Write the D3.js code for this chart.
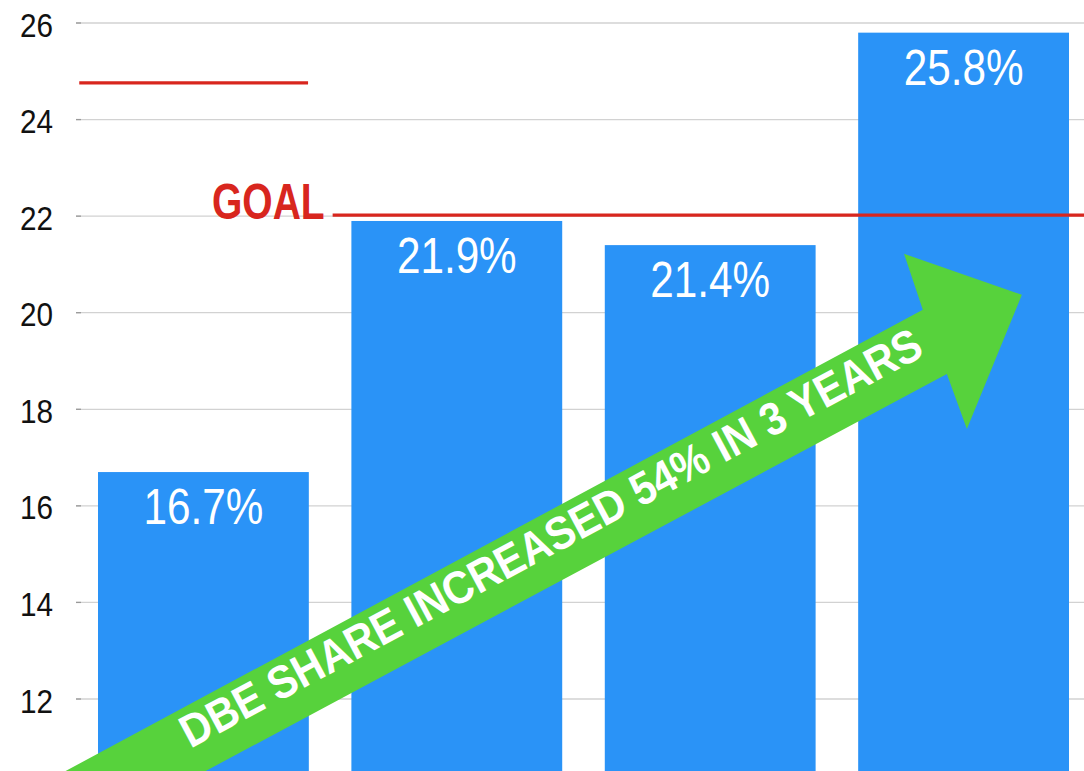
<!DOCTYPE html>
<html>
<head>
<meta charset="utf-8">
<script src="https://cdn.jsdelivr.net/npm/d3@7"></script>
<style>
  html, body { margin: 0; padding: 0; background: #fff; }
  svg { display: block; overflow: hidden; }
  text { font-family: "Liberation Sans", Arial, Helvetica, sans-serif; }
</style>
</head>
<body>
<div id="chart"></div>
<script>
// ── Data ─────────────────────────────────────────────────────────────────
const categories = ["Year 1", "Year 2", "Year 3", "Year 4"];
const values     = [16.7, 21.9, 21.4, 25.8];
const labels     = ["16.7%", "21.9%", "21.4%", "25.8%"];
const yTicks     = [12, 14, 16, 18, 20, 22, 24, 26];

// annotation lines: [category units, value]
const goalValue   = 22.02;
const goalLine    = [0.51, 3.5];
const topRedLine  = [[-0.49, 24.76], [0.413, 24.76]];
const arrowText   = "DBE SHARE INCREASED 54% IN 3 YEARS";
// arrow outline in [category units, value]
const arrowShape  = [
  [-0.724, 10.0], [2.839, 20.06], [2.765, 21.22], [3.23, 20.37],
  [3.013, 17.59], [2.934, 18.73], [-0.172, 10.0]
];
const arrowLabelAt = [1.40, 15.05];
const arrowAngle   = -28.2;

// ── Layout ───────────────────────────────────────────────────────────────
const W = 1084, H = 771;
const BLUE = "#2a93f7", GREEN = "#57d23c", RED = "#d8261e", GRID = "#d2d2d2";

const svg = d3.select("#chart").append("svg")
  .attr("width", W).attr("height", H);

const x = d3.scaleBand()
  .domain(categories)
  .range([98, 1069])
  .paddingInner(0.168)
  .paddingOuter(0);

const y = d3.scaleLinear().domain([12, 26]).range([699, 23]);

// category-unit scale for annotations (0 = first bar centre)
const xu = d3.scaleLinear()
  .domain([0, 3])
  .range([x(categories[0]) + x.bandwidth() / 2, x(categories[3]) + x.bandwidth() / 2]);

// squeezed text helper (the original type is condensed)
function sText(g, px, py, str, size, sx, opts = {}) {
  return g.append("text")
    .attr("transform", `translate(${px},${py})${opts.rotate ? ` rotate(${opts.rotate})` : ""} scale(${sx},1)`)
    .attr("text-anchor", opts.anchor || "middle")
    .style("font-size", size + "px")
    .style("font-weight", opts.weight || "normal")
    .style("fill", opts.fill || "#111")
    .text(str);
}

// ── Grid + y axis ────────────────────────────────────────────────────────
const grid = svg.append("g");
grid.selectAll("line.grid")
  .data(yTicks)
  .enter().append("line")
    .attr("class", "grid")
    .attr("x1", 76).attr("x2", W)
    .attr("y1", d => y(d)).attr("y2", d => y(d))
    .attr("stroke", GRID).attr("stroke-width", 1.3);
grid.selectAll("line.tick")
  .data(yTicks)
  .enter().append("line")
    .attr("class", "tick")
    .attr("x1", 76).attr("x2", 81)
    .attr("y1", d => y(d)).attr("y2", d => y(d))
    .attr("stroke", "#999").attr("stroke-width", 1.3);
yTicks.forEach(t => sText(grid, 53, y(t) + 13.5, String(t), 33, 0.9, { anchor: "end", fill: "#111" }));

// ── Bars ─────────────────────────────────────────────────────────────────
svg.selectAll("rect.bar")
  .data(values)
  .enter().append("rect")
    .attr("class", "bar")
    .attr("x", (d, i) => x(categories[i]))
    .attr("y", d => y(d))
    .attr("width", x.bandwidth())
    .attr("height", d => y(10) - y(d))
    .attr("fill", BLUE);

const lbl = svg.append("g");
values.forEach((v, i) =>
  sText(lbl, x(categories[i]) + x.bandwidth() / 2, y(v) + 52, labels[i], 50, 0.845, { fill: "#fff" }));

// ── Red lines + GOAL ─────────────────────────────────────────────────────
svg.append("line")
  .attr("x1", xu(topRedLine[0][0])).attr("x2", xu(topRedLine[1][0]))
  .attr("y1", y(topRedLine[0][1])).attr("y2", y(topRedLine[1][1]))
  .attr("stroke", RED).attr("stroke-width", 3.2);

svg.append("line")
  .attr("x1", xu(goalLine[0])).attr("x2", xu(goalLine[1]))
  .attr("y1", y(goalValue)).attr("y2", y(goalValue))
  .attr("stroke", RED).attr("stroke-width", 3.2);

sText(svg, xu(goalLine[0]) - 8, y(goalValue) + 3.5, "GOAL", 50, 0.78,
  { anchor: "end", weight: "bold", fill: RED });

// ── Green arrow ──────────────────────────────────────────────────────────
svg.append("path")
  .attr("d", d3.line().x(d => xu(d[0])).y(d => y(d[1]))(arrowShape) + "Z")
  .attr("fill", GREEN);

sText(svg, xu(arrowLabelAt[0]), y(arrowLabelAt[1]), arrowText, 46, 0.9,
  { weight: "bold", fill: "#fff", rotate: arrowAngle });
</script>
</body>
</html>
